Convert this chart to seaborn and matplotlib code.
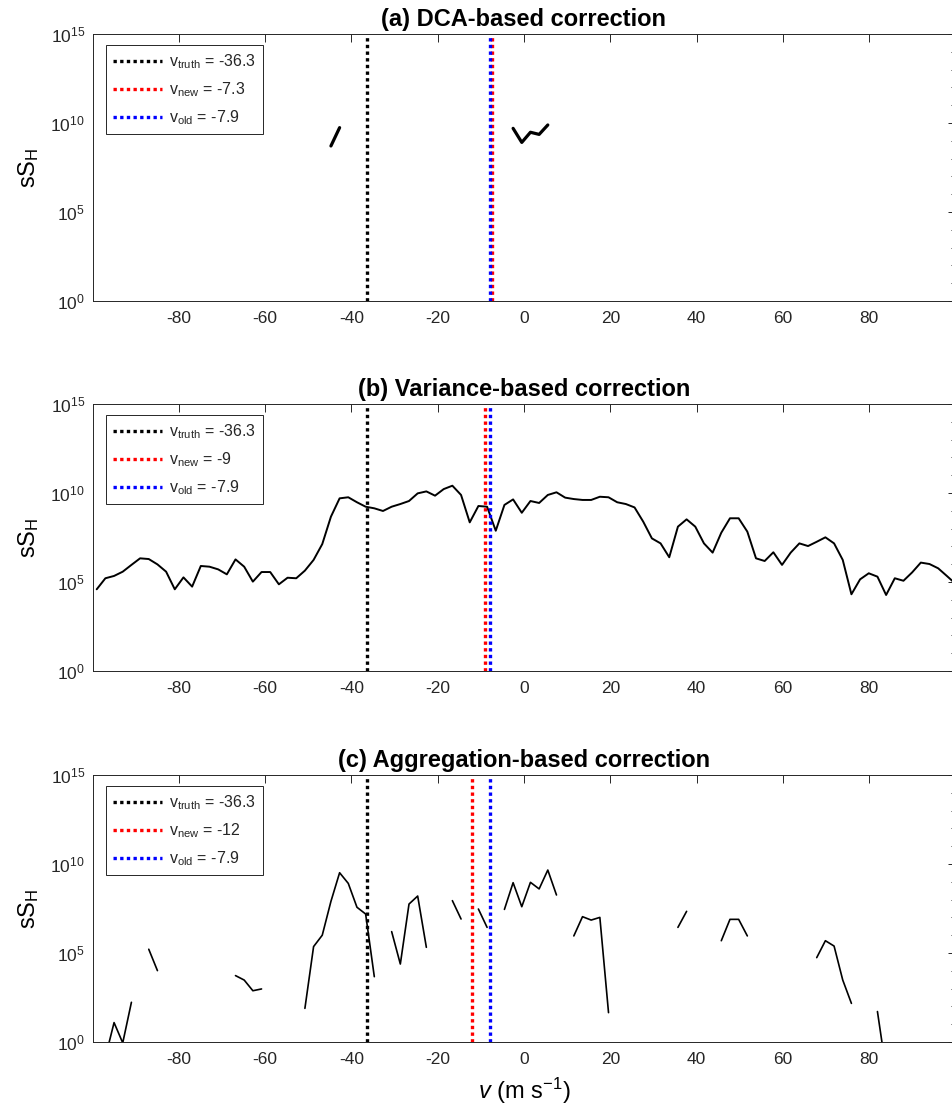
import numpy as np
import pandas as pd
import matplotlib
matplotlib.use("Agg")
import matplotlib.pyplot as plt
import seaborn as sns
from matplotlib.ticker import FixedLocator, LogFormatterSciNotation, NullFormatter

nan = np.nan

# Doppler velocity bins (m s^-1)
v_start = -99.0
v_step = 2.01
n_bins = 100

# log10(sS_H) per velocity bin; nan marks bins with no value
dca_log = [
    nan, nan, nan, nan, nan, nan, nan, nan, nan, nan,
    nan, nan, nan, nan, nan, nan, nan, nan, nan, nan,
    nan, nan, nan, nan, nan, nan, nan, 8.71, 9.74, nan,
    nan, nan, nan, nan, nan, nan, nan, nan, nan, nan,
    nan, nan, nan, nan, nan, nan, nan, nan, 9.70, 8.91,
    9.48, 9.36, 9.89, nan, nan, nan, nan, nan, nan, nan,
    nan, nan, nan, nan, nan, nan, nan, nan, nan, nan,
    nan, nan, nan, nan, nan, nan, nan, nan, nan, nan,
    nan, nan, nan, nan, nan, nan, nan, nan, nan, nan,
    nan, nan, nan, nan, nan, nan, nan, nan, nan, nan,
]

var_log = [
    4.59, 5.21, 5.34, 5.58, 5.96, 6.33, 6.29, 5.99, 5.58, 4.59,
    5.26, 4.74, 5.90, 5.86, 5.71, 5.43, 6.27, 5.86, 5.02, 5.56,
    5.56, 4.87, 5.24, 5.21, 5.64, 6.24, 7.13, 8.67, 9.70, 9.76,
    9.48, 9.23, 9.14, 8.99, 9.23, 9.38, 9.55, 9.98, 10.09, 9.85,
    10.22, 10.41, 9.89, 8.35, 9.27, 9.23, 7.88, 9.33, 9.64, 8.89,
    9.55, 9.44, 9.89, 10.04, 9.74, 9.66, 9.61, 9.61, 9.79, 9.76,
    9.48, 9.38, 9.19, 8.39, 7.45, 7.17, 6.39, 8.11, 8.52, 8.11,
    7.17, 6.65, 7.77, 8.58, 8.58, 7.83, 6.33, 6.18, 6.67, 5.96,
    6.65, 7.17, 7.02, 7.26, 7.51, 7.17, 6.24, 4.31, 5.15, 5.49,
    5.30, 4.27, 5.21, 5.07, 5.54, 6.09, 6.01, 5.77, 5.34, 4.90,
]

agg_log = [
    nan, -0.86, 1.09, -0.05, 2.23, nan, 5.21, 4.01, nan, nan,
    nan, nan, nan, nan, nan, nan, 3.73, 3.48, 2.88, 2.98,
    nan, nan, nan, nan, 1.89, 5.36, 6.00, 7.90, 9.51, 8.91,
    7.57, 7.19, 3.67, nan, 6.20, 4.38, 7.75, 8.20, 5.32, nan,
    nan, 7.94, 6.91, nan, 7.47, 6.44, nan, 7.45, 8.95, 7.60,
    8.97, 8.60, 9.66, 8.26, nan, 5.96, 7.04, 6.85, 7.00, 1.65,
    nan, nan, nan, nan, nan, nan, nan, 6.44, 7.34, nan,
    nan, nan, 5.69, 6.89, 6.89, 5.96, nan, nan, nan, nan,
    nan, nan, nan, 4.74, 5.69, 5.39, 3.48, 2.17, nan, nan,
    1.71, -1.60, nan, nan, nan, nan, nan, nan, nan, nan,
]

titles = ["(a) DCA-based correction",
          "(b) Variance-based correction",
          "(c) Aggregation-based correction"]
v_truth = -36.3
v_new = [-7.3, -9, -12]
v_old = -7.9

sns.set_style("white")
plt.rcParams["font.family"] = ["Liberation Sans", "DejaVu Sans"]
plt.rcParams["mathtext.fontset"] = "custom"
plt.rcParams["mathtext.rm"] = "Liberation Sans"
plt.rcParams["mathtext.it"] = "Liberation Sans:italic"
plt.rcParams["mathtext.bf"] = "Liberation Sans:bold"
plt.rcParams["axes.unicode_minus"] = False

axis_color = "#262626"
velocity = v_start + v_step * np.arange(n_bins)


def segments_frame(log_values):
    vals = np.asarray(log_values, dtype=float)
    valid = ~np.isnan(vals)
    seg = np.cumsum(np.r_[True, valid[1:] != valid[:-1]])
    df = pd.DataFrame({"v": velocity, "ssh": 10.0 ** vals, "seg": seg})
    return df[valid]


fig = plt.figure(figsize=(9.53, 11.11), dpi=100)
left, width, height = 0.09727, 0.9051, 0.24032
bottoms = [0.72907, 0.39604, 0.06211]
series = [dca_log, var_log, agg_log]
line_widths = [2.3, 1.4, 1.2]
dots = (0, (1, 1))

for k in range(3):
    ax = fig.add_axes([left, bottoms[k], width, height])
    ax.set_yscale("log")
    df = segments_frame(series[k])
    sns.lineplot(data=df, x="v", y="ssh", units="seg", estimator=None,
                 color="black", lw=line_widths[k], ax=ax, legend=False)

    h1 = ax.axvline(v_truth, color="black", ls=dots, lw=2.4,
                    label=r"v$_{\mathrm{truth}}$ = -36.3")
    h2 = ax.axvline(v_new[k], color="#ff0000", ls=dots, lw=2.4,
                    label=r"v$_{\mathrm{new}}$ = %g" % v_new[k])
    h3 = ax.axvline(v_old, color="#0000ff", ls=dots, lw=2.4,
                    label=r"v$_{\mathrm{old}}$ = -7.9")

    ax.set_xlim(-99.93, 99.93)
    ax.set_ylim(1, 1e15)
    ax.set_xticks([-80, -60, -40, -20, 0, 20, 40, 60, 80])
    ax.yaxis.set_major_locator(FixedLocator([1, 1e5, 1e10, 1e15]))
    ax.yaxis.set_major_formatter(LogFormatterSciNotation())
    ax.yaxis.set_minor_locator(FixedLocator([10.0 ** p for p in range(1, 15) if p % 5]))
    ax.yaxis.set_minor_formatter(NullFormatter())
    ax.xaxis.set_minor_locator(FixedLocator([]))

    ax.tick_params(axis="both", which="both", direction="in", top=True, right=True,
                   colors=axis_color, labelcolor=axis_color, width=0.7)
    ax.tick_params(axis="x", which="major", length=5.8, labelsize=12.5, pad=7)
    ax.tick_params(axis="y", which="major", length=5.0, labelsize=12.5, pad=5.5)
    ax.tick_params(axis="y", which="minor", length=2.9)
    for sp in ax.spines.values():
        sp.set_color(axis_color)
        sp.set_linewidth(0.7)

    ax.set_title(titles[k], fontsize=17, fontweight="bold", pad=5.8, color="black")
    ax.set_ylabel(r"sS$_\mathrm{H}$", fontsize=17, color="black")
    ax.yaxis.set_label_coords(-0.06, 0.5)
    if k == 2:
        ax.set_xlabel(r"$v$ (m s$^{-1}$)", fontsize=17, color="black")
        ax.xaxis.set_label_coords(0.5, -0.125)
    else:
        ax.set_xlabel("")

    leg = ax.legend(handles=[h1, h2, h3], loc="upper left",
                    bbox_to_anchor=(0.0151, 0.9577), borderaxespad=0,
                    fontsize=11.5, handlelength=3.1, handletextpad=0.4,
                    borderpad=0.45, labelspacing=0.58, fancybox=False,
                    framealpha=1, edgecolor=axis_color)
    leg.get_frame().set_linewidth(0.7)

fig.savefig("out.png", dpi=100)
